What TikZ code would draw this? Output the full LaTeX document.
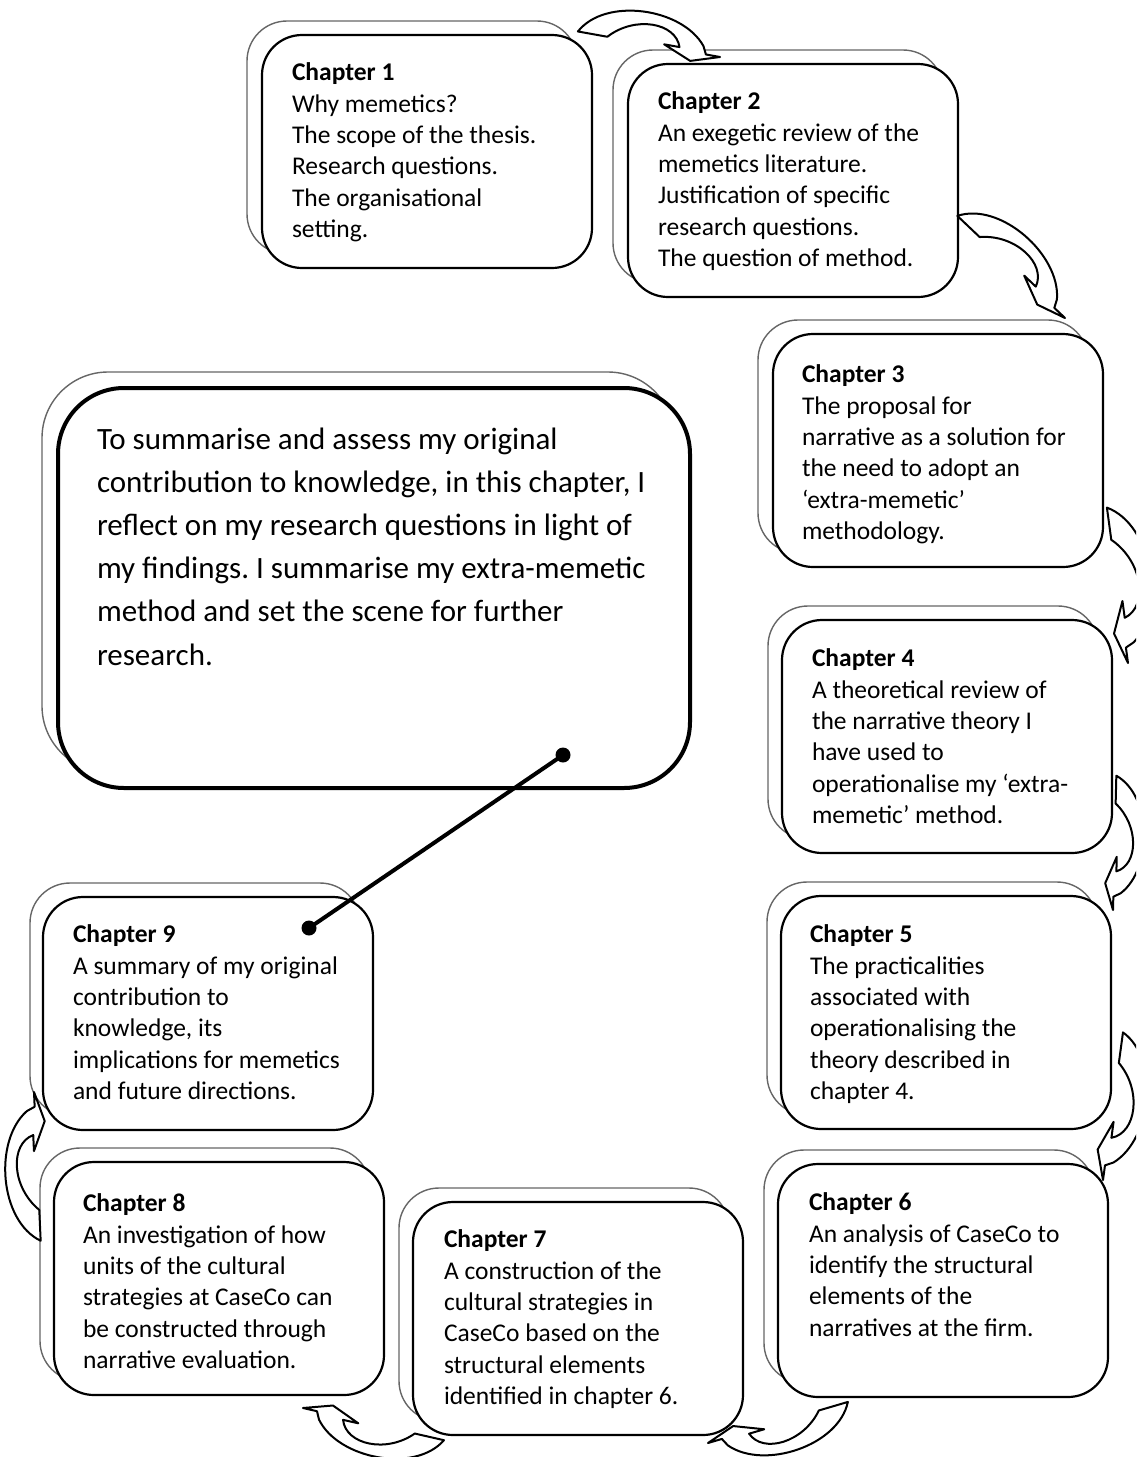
\documentclass[tikz,border=0pt]{standalone}
\usepackage{fontspec}
\setmainfont{Carlito}
\frenchspacing
\tikzset{
  shadowbox/.style={draw=black!60, line width=1.4pt, fill=white, rounded corners=40pt,
    minimum width=330pt, minimum height=233pt, anchor=north west, inner sep=0pt, outer sep=0pt},
  frontbox/.style={draw=black, line width=2.2pt, fill=white, rounded corners=40pt,
    minimum width=330pt, minimum height=233pt, anchor=north west, inner sep=0pt, outer sep=0pt},
  bigshadow/.style={shadowbox, minimum width=632pt, minimum height=400pt, rounded corners=66pt},
  bigfront/.style={frontbox, line width=4pt, minimum width=632pt, minimum height=400pt, rounded corners=66pt},
  txt/.style={anchor=north west, inner sep=0pt, outer sep=0pt, align=left,
    font=\fontsize{25.5}{31.3}\selectfont},
  bigtxt/.style={anchor=north west, inner sep=0pt, outer sep=0pt, align=left,
    font=\fontsize{31}{43.1}\selectfont},
  cbarrow/.style={draw=black, line width=2pt, fill=white, line join=round},
  dot/.style={circle, fill=black, inner sep=0pt, minimum size=15pt},
  link/.style={line width=4pt, draw=black}
}
\newcommand\curvarrow[4]{%
  \pgfmathsetmacro\cax{#3-#1}%
  \pgfmathsetmacro\cay{#2-#4}%
  \pgfmathsetmacro\cnx{-\cay}%
  \begin{scope}[shift={(#1,#2)}, x={(\cax pt,\cay pt)}, y={(\cnx pt,\cax pt)}]
    \draw[cbarrow] (-0.11,0) .. controls (0.05,0.3) and (0.65,0.32) .. (0.86,0.06)
      -- (0.89,0) -- (1,0) -- (0.78,-0.07) -- (0.56,0.02) -- (0.68,0.02)
      .. controls (0.62,0.2) and (0.3,0.2) .. (0.12,0) -- cycle;
  \end{scope}}
\begin{document}
\begin{tikzpicture}[x=1pt,y=-1pt]
\useasboundingbox (0,0) rectangle (1136,1457);
\clip (0,0) rectangle (1136,1457);
\fill[white] (0,0) rectangle (1136,1457);

% Chapter 1
\node[shadowbox] (s1) at (247,21) {};
\node[frontbox] (c1) at (262,35) {};
\node[txt] (t1) at (292,63) {\textbf{Chapter 1}\\Why memetics?\\The scope of the thesis.\\Research questions.\\The organisational\\setting.};
% Chapter 2
\node[shadowbox] (s2) at (613,50) {};
\node[frontbox] (c2) at (628,64) {};
\node[txt] (t2) at (658,92) {\textbf{Chapter 2}\\An exegetic review of the\\memetics literature.\\Justification of specific\\research questions.\\The question of method.};
% Chapter 3
\node[shadowbox] (s3) at (758,320) {};
\node[frontbox] (c3) at (773,334) {};
\node[txt] (t3) at (802,365) {\textbf{Chapter 3}\\The proposal for\\narrative as a solution for\\the need to adopt an\\‘extra-memetic’\\methodology.};
% Chapter 4
\node[shadowbox] (s4) at (768,606) {};
\node[frontbox] (c4) at (782,620) {};
\node[txt] (t4) at (812,649) {\textbf{Chapter 4}\\A theoretical review of\\the narrative theory I\\have used to\\operationalise my ‘extra-\\memetic’ method.};
% Chapter 5
\node[shadowbox] (s5) at (767,882) {};
\node[frontbox] (c5) at (781,896) {};
\node[txt] (t5) at (810,925) {\textbf{Chapter 5}\\The practicalities\\associated with\\operationalising the\\theory described in\\chapter 4.};
% Chapter 6
\node[shadowbox] (s6) at (764,1150) {};
\node[frontbox] (c6) at (778,1164) {};
\node[txt] (t6) at (809,1193) {\textbf{Chapter 6}\\An analysis of CaseCo to\\identify the structural\\elements of the\\narratives at the firm.};
% Chapter 7
\node[shadowbox] (s7) at (399,1188) {};
\node[frontbox] (c7) at (413,1202) {};
\node[txt] (t7) at (444,1230) {\textbf{Chapter 7}\\A construction of the\\cultural strategies in\\CaseCo based on the\\structural elements\\identified in chapter 6.};
% Chapter 8
\node[shadowbox] (s8) at (40,1148) {};
\node[frontbox] (c8) at (54,1162) {};
\node[txt] (t8) at (83,1194) {\textbf{Chapter 8}\\An investigation of how\\units of the cultural\\strategies at CaseCo can\\be constructed through\\narrative evaluation.};
% Chapter 9
\node[shadowbox] (s9) at (30,883) {};
\node[frontbox] (c9) at (43,897) {};
\node[txt] (t9) at (73,925) {\textbf{Chapter 9}\\A summary of my original\\contribution to\\knowledge, its\\implications for memetics\\and future directions.};
% Big summary box
\node[bigshadow] (sb) at (42,372) {};
\node[bigfront] (cb) at (58,388) {};
\node[bigtxt] (tb) at (97,428) {To summarise and assess my original\\contribution to knowledge, in this chapter, I\\reflect on my research questions in light of\\my findings. I summarise my extra-memetic\\method and set the scene for further\\research.};

% connector
\node[dot] (d1) at (563,755) {};
\node[dot] (d2) at (309,928) {};
\draw[link] (d1.center) -- (d2.center);

% curved arrows
\curvarrow{592}{34}{720}{57}
\curvarrow{968}{226}{1065}{318}
\curvarrow{1109}{523}{1128}{663}
\curvarrow{1116}{789}{1113}{910}
\curvarrow{1121}{1047}{1103}{1180}
\curvarrow{834}{1406}{708}{1443}
\curvarrow{430}{1437}{303}{1408}
\curvarrow{40}{1226}{34}{1092}
\end{tikzpicture}
\end{document}
